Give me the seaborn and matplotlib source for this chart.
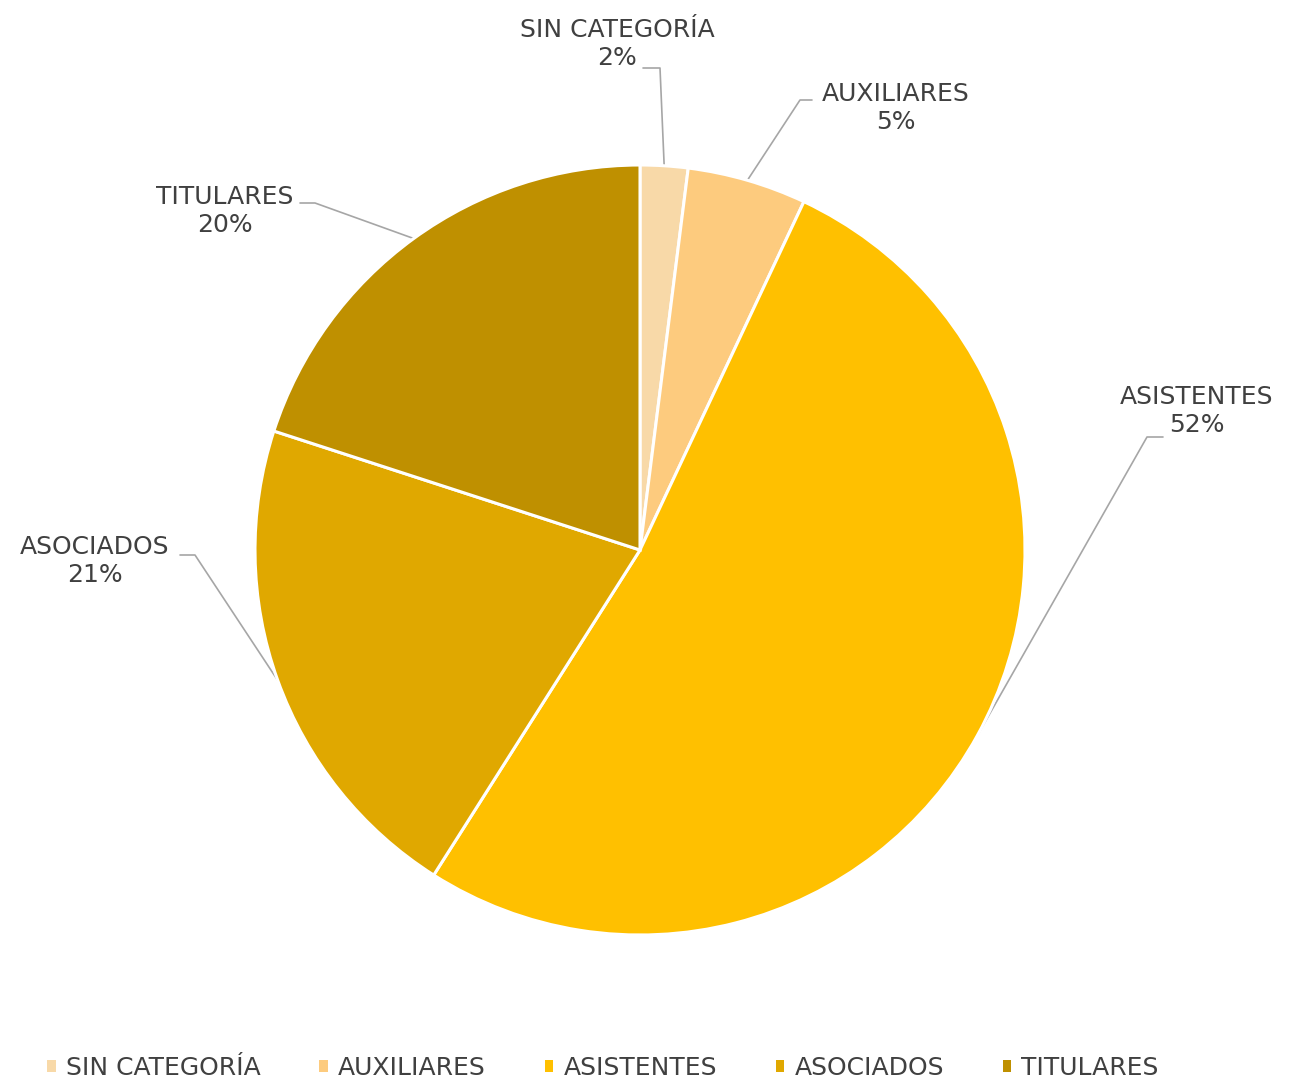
import numpy as np
import seaborn as sns
import matplotlib.pyplot as plt
from matplotlib.patches import Patch

categories = ["SIN CATEGORÍA", "AUXILIARES", "ASISTENTES", "ASOCIADOS", "TITULARES"]
shares = [2, 5, 52, 21, 20]
colors = ["#F8D9A8", "#FDCB7E", "#FFC000", "#E0A800", "#BF9000"]

sns.set_theme(style="white")
plt.rcParams['font.family'] = ['DejaVu Sans']
txt = '#404040'

fig = plt.figure(figsize=(12.9, 10.8), dpi=100)
fig.patch.set_facecolor('white')

# pie axes: centre (640, 550) px, radius 385 px
W, H, cx, cy, R = 1290, 1080, 640, 550, 385
ax = fig.add_axes([(cx - R) / W, (H - cy - R) / H, 2 * R / W, 2 * R / H])
wedges, _ = ax.pie(shares, colors=colors, startangle=90, counterclock=False,
                   radius=1, wedgeprops=dict(edgecolor='white', linewidth=2.2))
ax.set_xlim(-1, 1)
ax.set_ylim(-1, 1)
ax.set_aspect('equal')
ax.axis('off')


def d(px, py):
    # pixel -> data coords of the pie axes
    return (px - cx) / R, (cy - py) / R


# label centre, elbow and end of leader line (pixels)
layout = [
    dict(text=(617, 44), elbow=(660, 68), end=(643, 68)),
    dict(text=(896, 108), elbow=(800, 100), end=(812, 100)),
    dict(text=(1197, 411), elbow=(1147, 437), end=(1163, 437)),
    dict(text=(95, 561), elbow=(195, 555), end=(180, 555)),
    dict(text=(225, 211), elbow=(315, 203), end=(300, 203)),
]

cum = np.cumsum([0] + shares)
total = float(sum(shares))
for i, (cat, val) in enumerate(zip(categories, shares)):
    mid = (cum[i] + val / 2) / total * 2 * np.pi
    ex, ey = np.sin(mid), np.cos(mid)
    lay = layout[i]
    bx, by = d(*lay['elbow'])
    fx, fy = d(*lay['end'])
    ax.plot([ex, bx, fx], [ey, by, fy], color='#A6A6A6', lw=1.2,
            clip_on=False, zorder=0)
    tx, ty = d(*lay['text'])
    ax.text(tx, ty, f"{cat}\n{val}%", ha='center', va='center',
            fontsize=18, color=txt, linespacing=1.22)

handles = [Patch(facecolor=c, edgecolor='none') for c in colors]
fig.legend(handles, categories, loc='center', ncol=5,
           bbox_to_anchor=(603 / W, 1 - 1068 / H), frameon=False,
           fontsize=18, labelcolor=txt, handlelength=0.35, handleheight=0.35,
           handletextpad=0.4, columnspacing=2.35)

fig.savefig('out.png', dpi=100, facecolor='white')
